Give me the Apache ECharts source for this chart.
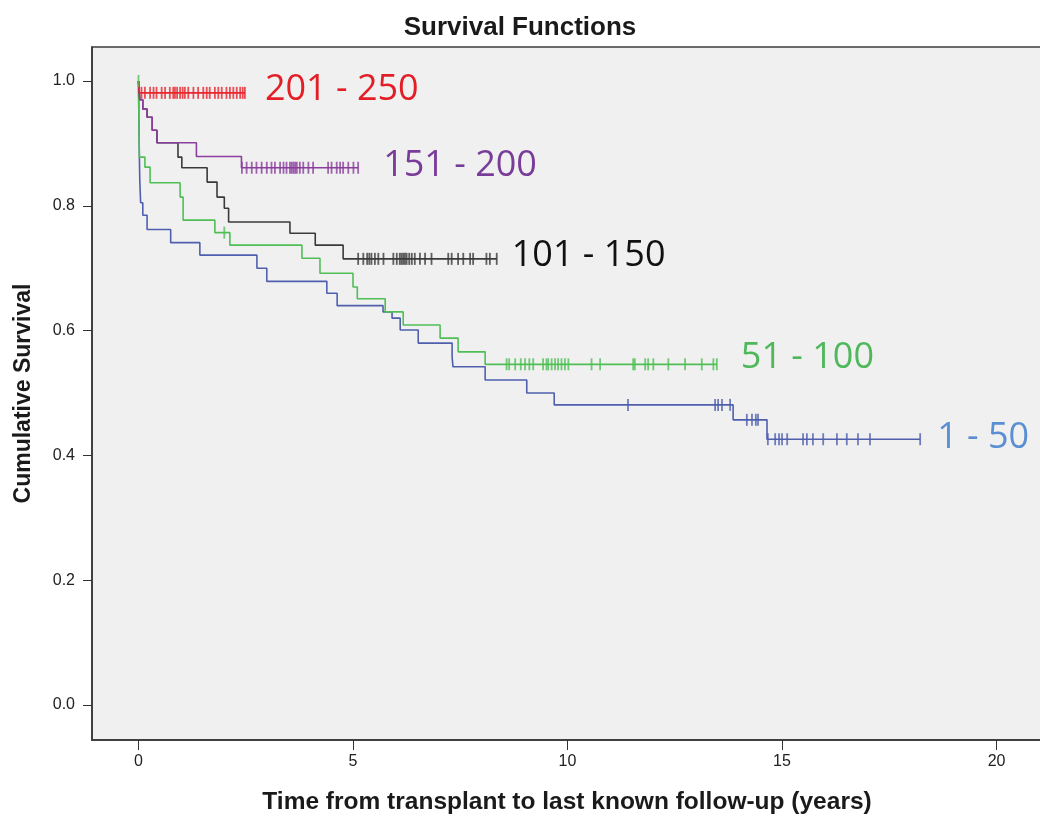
<!DOCTYPE html>
<html>
<head>
<meta charset="utf-8">
<script src="https://cdn.jsdelivr.net/npm/echarts@6/dist/echarts.min.js"></script>
<style>
html,body{margin:0;padding:0;background:#fff;}
#chart{width:1040px;height:819px;}
</style>
</head>
<body>
<div id="chart"></div>
<script>
// ---- data ----
const groupNames = ['1 - 50', '51 - 100', '101 - 150', '151 - 200', '201 - 250'];

const blueEventTimes = [0, 0.01, 0.02, 0.03, 0.05, 0.1, 0.2, 0.75, 1.43, 2.76, 2.99, 4.39, 4.63, 5.70, 5.91, 6.10, 6.52, 7.31, 7.33, 8.08, 9.05, 9.69, 13.86, 14.65];
const blueSurvival   = [1.0, 0.93, 0.88, 0.84, 0.805, 0.785, 0.762, 0.741, 0.721, 0.700, 0.679, 0.660, 0.640, 0.630, 0.620, 0.601, 0.580, 0.558, 0.542, 0.521, 0.500, 0.481, 0.457, 0.426];
const blueCensored   = [11.41, 13.44, 13.51, 13.60, 13.79, 14.18, 14.30, 14.39, 14.44, 14.67, 14.84, 14.93, 15.00, 15.12, 15.49, 15.58, 15.72, 15.96, 16.28, 16.51, 16.77, 17.05, 18.22];

const greenEventTimes = [0, 0.02, 0.15, 0.27, 0.97, 1.04, 1.78, 2.13, 3.81, 4.23, 5.00, 5.10, 5.75, 6.17, 7.03, 7.45, 8.08];
const greenSurvival   = [1.0, 0.878, 0.862, 0.837, 0.814, 0.777, 0.757, 0.737, 0.716, 0.692, 0.670, 0.651, 0.630, 0.609, 0.588, 0.566, 0.546];
const greenCensored   = [0, 2.00, 8.58, 8.64, 8.78, 8.91, 9.01, 9.11, 9.20, 9.43, 9.51, 9.55, 9.63, 9.71, 9.78, 9.86, 9.94, 10.02, 10.56, 10.76, 11.53, 11.57, 11.81, 11.88, 12.00, 12.35, 12.74, 13.13, 13.40, 13.48];

const blackEventTimes = [0, 0.03, 0.1, 0.2, 0.32, 0.43, 0.92, 1.01, 1.60, 1.83, 2.00, 2.10, 3.53, 4.12, 4.77];
const blackSurvival   = [1.0, 0.97, 0.955, 0.942, 0.921, 0.901, 0.878, 0.861, 0.838, 0.814, 0.796, 0.774, 0.756, 0.737, 0.715];
const blackCensored   = [5.12, 5.24, 5.33, 5.38, 5.43, 5.51, 5.59, 5.71, 5.94, 6.02, 6.09, 6.13, 6.17, 6.21, 6.25, 6.31, 6.37, 6.44, 6.56, 6.68, 6.83, 7.22, 7.30, 7.45, 7.57, 7.73, 7.80, 8.11, 8.19, 8.35];

const purpleEventTimes = [0, 0.03, 0.1, 0.2, 0.32, 0.43, 1.35, 2.40];
const purpleSurvival   = [1.0, 0.97, 0.955, 0.942, 0.921, 0.901, 0.879, 0.861];
const purpleCensored   = [2.41, 2.52, 2.64, 2.75, 2.87, 2.99, 3.10, 3.18, 3.30, 3.38, 3.45, 3.53, 3.57, 3.61, 3.65, 3.69, 3.76, 3.84, 3.96, 4.07, 4.42, 4.50, 4.62, 4.70, 4.77, 4.89, 5.01, 5.12];

const redEventTimes = [0, 0.02];
const redSurvival   = [1.0, 0.981];
const redCensored   = [0.07, 0.15, 0.27, 0.35, 0.42, 0.54, 0.62, 0.73, 0.81, 0.85, 0.90, 0.97, 1.03, 1.08, 1.16, 1.28, 1.39, 1.51, 1.59, 1.66, 1.78, 1.86, 1.94, 2.05, 2.13, 2.21, 2.29, 2.37, 2.43, 2.48];

const xTickValues = [0, 5, 10, 15, 20];
const yTickValues = [0, 0.2, 0.4, 0.6, 0.8, 1.0];

// ---- build ----
function survAt(times, surv, t) {
  let s = surv[0];
  for (let i = 0; i < times.length; i++) { if (times[i] <= t) s = surv[i]; }
  return s;
}
function stepData(times, surv, cens) {
  const d = times.map((t, i) => [t, surv[i]]);
  const last = Math.max(times[times.length - 1], ...cens);
  if (last > times[times.length - 1]) d.push([last, surv[surv.length - 1]]);
  return d;
}
function censData(times, surv, cens) {
  return cens.map(t => [t, survAt(times, surv, t)]);
}

const groups = [
  { name: groupNames[0], t: blueEventTimes, s: blueSurvival, c: blueCensored, line: '#4f5fae', text: '#5b8fd3', dist: 17, off: [0, -1] },
  { name: groupNames[1], t: greenEventTimes, s: greenSurvival, c: greenCensored, line: '#4fbf55', text: '#4fb85a', dist: 24, off: [0, -7] },
  { name: groupNames[2], t: blackEventTimes, s: blackSurvival, c: blackCensored, line: '#3a3a3a', text: '#111111', dist: 15, off: [0, -3] },
  { name: groupNames[3], t: purpleEventTimes, s: purpleSurvival, c: purpleCensored, line: '#8a3f9c', text: '#7a3c99', dist: 25, off: [0, -2] },
  { name: groupNames[4], t: redEventTimes, s: redSurvival, c: redCensored, line: '#e8262e', text: '#e21f26', dist: 20, off: [0, -3] }
];

const series = [];
groups.forEach(g => {
  series.push({
    type: 'line', name: g.name, step: 'end', showSymbol: false, symbol: 'none',
    data: stepData(g.t, g.s, g.c),
    lineStyle: { color: g.line, width: 1.6 },
    itemStyle: { color: g.line },
    endLabel: {
      show: true, formatter: g.name, color: g.text, fontSize: 36,
      fontFamily: 'Open Sans', distance: g.dist, offset: g.off
    },
    z: 2
  });
  series.push({
    type: 'scatter', name: g.name + ' censored', symbol: 'rect', symbolSize: [1.8, 12],
    data: censData(g.t, g.s, g.c),
    itemStyle: { color: g.line }, z: 3
  });
});

const chart = echarts.init(document.getElementById('chart'), null, { renderer: 'canvas' });
chart.setOption({
  animation: false,
  backgroundColor: '#ffffff',
  title: {
    text: 'Survival Functions', left: 'center', top: 10,
    textStyle: { fontFamily: 'Liberation Sans', fontWeight: 'bold', fontSize: 26, color: '#1a1a1a' }
  },
  grid: {
    left: 92, top: 47, width: 950, height: 693, show: true,
    outerBoundsMode: 'none', containLabel: false,
    backgroundColor: '#f0f0f0', borderColor: '#3c3c3c', borderWidth: 1.5
  },
  xAxis: {
    type: 'value', min: -1.084, max: 21.06,
    name: 'Time from transplant to last known follow-up (years)',
    nameLocation: 'middle', nameGap: 50,
    nameTextStyle: { fontFamily: 'Liberation Sans', fontWeight: 'bold', fontSize: 24.5, color: '#1a1a1a' },
    axisLine: { show: true, onZero: false, lineStyle: { color: '#333', width: 1.5 } },
    axisTick: { show: true, length: 10, customValues: xTickValues, lineStyle: { color: '#333' } },
    axisLabel: { customValues: xTickValues, fontFamily: 'Liberation Sans', fontSize: 16, color: '#222', margin: 14 },
    splitLine: { show: false }
  },
  yAxis: {
    type: 'value', min: -0.056, max: 1.0545,
    name: 'Cumulative Survival', nameLocation: 'middle', nameGap: 57,
    nameTextStyle: { fontFamily: 'Liberation Sans', fontWeight: 'bold', fontSize: 23, color: '#1a1a1a' },
    axisLine: { show: true, onZero: false, lineStyle: { color: '#333', width: 1.5 } },
    axisTick: { show: true, length: 9, customValues: yTickValues, lineStyle: { color: '#333' } },
    axisLabel: { customValues: yTickValues, formatter: v => v.toFixed(1), fontFamily: 'Liberation Sans', fontSize: 16, color: '#222', margin: 17 },
    splitLine: { show: false }
  },
  series: series
});
</script>
</body>
</html>
